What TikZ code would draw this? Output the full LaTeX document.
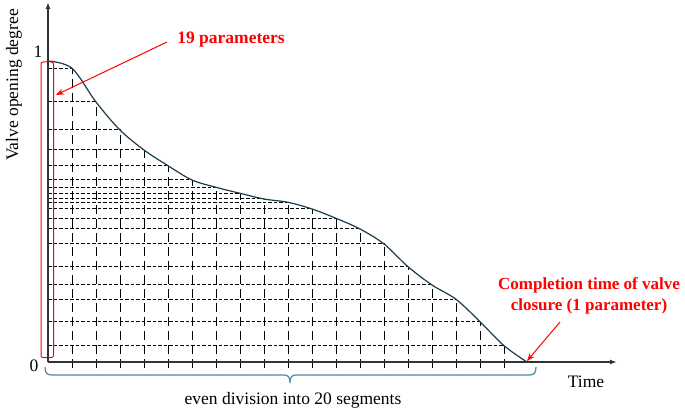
\documentclass[tikz,border=0pt]{standalone}
\usepackage{fontspec}
\setmainfont{Liberation Serif}
\usetikzlibrary{arrows.meta}
\definecolor{curvecol}{HTML}{1D3C4E}
\definecolor{bracecol}{HTML}{4E87A3}
\definecolor{axiscol}{HTML}{333333}
\begin{document}
\begin{tikzpicture}[x=1pt,y=-1pt,
  hgrid/.style={line width=1pt,dash pattern=on 3.5pt off 2pt},
  vgrid/.style={line width=1pt,dash pattern=on 9pt off 5pt},
  axisline/.style={line width=1.4pt,draw=axiscol,-{Latex[length=7pt,width=5pt]}},
  curveline/.style={line width=1.2pt,draw=curvecol},
  redann/.style={text=red,font=\bfseries\fontsize{17.5}{21}\selectfont},
  redarrow/.style={draw=red,line width=1pt,-{Stealth[length=8pt,width=6pt]}},
  lbl/.style={font=\fontsize{17.5}{20}\selectfont},
  bracestyle/.style={draw=bracecol,line width=1.2pt}]
\useasboundingbox (0,0) rectangle (685,411);
% grid
\foreach \x/\y in {72/68.3,96/102,120/130,144/150,168/165.7,192/180,216/187.3,240/193.3,264/199,288/202.3,312/209,336/218.3,360/229,384/244,408/266.7,432/285,456/299.3,480/321.7,504/345.7}{
  \draw[hgrid] (48,\y) -- (\x,\y);
  \draw[vgrid] (\x,368) -- (\x,\y);
}
% curve
\draw[curveline] plot[smooth,tension=0.55] coordinates {(48,61) (72,68.3) (96,102) (120,130) (144,150) (168,165.7) (192,180) (216,187.3) (240,193.3) (264,199) (288,202.3) (312,209) (336,218.3) (360,229) (384,244) (408,266.7) (432,285) (456,299.3) (480,321.7) (504,345.7) (527,362)};
% red box
\draw[red,line width=1pt,rounded corners=2pt] (41,62) rectangle (53.5,357.5);
% axes
\coordinate (O) at (48,362);
\coordinate (ytop) at (48,2);
\coordinate (xend) at (617,362);
\draw[axisline] (O) -- (ytop);
\draw[axisline] (O) -- (xend);
% labels
\node[lbl] (one) at (38,52) {1};
\node[lbl] (zero) at (34,366) {0};
\node[lbl,rotate=90] (ylab) at (14,85) {Valve opening degree};
\node[lbl] (time) at (586,382) {Time};
% brace
\draw[bracestyle] (45,367) .. controls (45,373) and (47,375) .. (52,375) -- (284,375) .. controls (288,375) and (290,377) .. (290,383) .. controls (290,377) and (292,375) .. (296,375) -- (529,375) .. controls (534,375) and (536,373) .. (536,367);
\node[lbl] (seg) at (293,400) {even division into 20 segments};
% red annotations
\node[redann] (t19) at (231,40) {19 parameters};
\node[redann,align=center,font=\bfseries\fontsize{17}{21}\selectfont] (tc) at (589,296) {Completion time of valve\\closure (1 parameter)};
\coordinate (a19s) at (167,42);
\coordinate (a19e) at (56,95);
\coordinate (acs) at (560,322);
\coordinate (ace) at (527,361);
\draw[redarrow] (a19s) -- (a19e);
\draw[redarrow] (acs) -- (ace);
\end{tikzpicture}
\end{document}
